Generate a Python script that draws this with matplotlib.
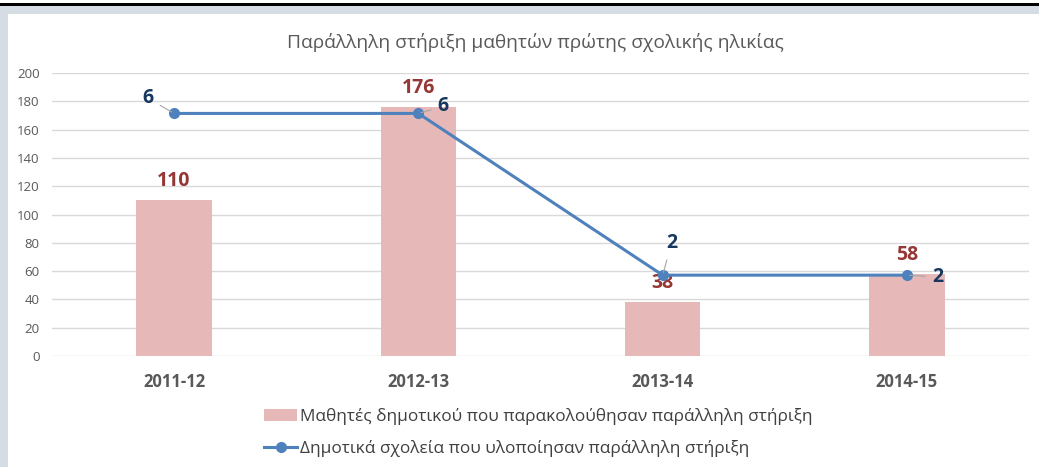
import matplotlib
matplotlib.use("Agg")
import matplotlib.pyplot as plt
from matplotlib.patches import Rectangle
from matplotlib.lines import Line2D

plt.rcParams['font.family'] = ['Open Sans', 'Noto Sans', 'DejaVu Sans']

categories = ["2011-12", "2012-13", "2013-14", "2014-15"]
students = [110, 176, 38, 58]
schools = [6, 6, 2, 2]
yticks = [0, 20, 40, 60, 80, 100, 120, 140, 160, 180, 200]

title = "Παράλληλη στήριξη μαθητών πρώτης σχολικής ηλικίας"
label_students = "Μαθητές δημοτικού που παρακολούθησαν παράλληλη στήριξη"
label_schools = "Δημοτικά σχολεία που υλοποίησαν παράλληλη στήριξη"

W, H = 1039, 467
fig = plt.figure(figsize=(W / 100, H / 100), dpi=100)
fig.patch.set_facecolor("white")

# frame decorations
fig.patches.append(Rectangle((0, 1 - 14 / H), 1, 8 / H, transform=fig.transFigure,
                             facecolor="#d6dce4", edgecolor="none", zorder=0))
fig.patches.append(Rectangle((0, 0), 8 / W, 1 - 6 / H, transform=fig.transFigure,
                             facecolor="#d6dce4", edgecolor="none", zorder=0))
fig.patches.append(Rectangle((0, 1 - 6 / H), 1, 3 / H, transform=fig.transFigure,
                             facecolor="black", edgecolor="none", zorder=1))

ax = fig.add_axes([52 / W, 1 - 356 / H, (1029 - 52) / W, (356 - 73) / H])
x = list(range(len(categories)))
ax.bar(x, students, width=0.31, color="#e6b9b8", zorder=2, label=label_students)
ax.set_xlim(-0.5, len(categories) - 0.5)
ax.set_ylim(0, 200)
ax.set_yticks(yticks)
ax.yaxis.grid(True, color="#d9d9d9", linewidth=1)
ax.set_axisbelow(True)
for s in ax.spines.values():
    s.set_visible(False)
ax.tick_params(axis="both", length=0)
ax.tick_params(axis="y", labelsize=9.5, labelcolor="#595959", pad=9)
ax.set_xticks(x)
ax.set_xticklabels(categories, fontsize=12, fontweight="bold", color="#595959")
ax.tick_params(axis="x", pad=12)

for xi, v in zip(x, students):
    ax.annotate(str(v), (xi, v), xytext=(0, 19), textcoords="offset pixels",
                ha="center", va="center", fontsize=14, fontweight="bold", color="#953735", zorder=5)

ax2 = ax.twinx()
ax2.set_ylim(0, 7)
ax2.axis("off")
ax2.plot(x, schools, color="#4f81bd", lw=2.2, marker="o", markersize=7, zorder=4,
         label=label_schools)

offsets = [(-26, 15), (25, 7), (9, 32), (31, -2)]
for xi, v, off in zip(x, schools, offsets):
    ax2.annotate(str(v), (xi, v), xytext=off, textcoords="offset pixels",
                 ha="center", va="center", fontsize=14, fontweight="bold", color="#17375e",
                 arrowprops=dict(arrowstyle="-", color="#a6a6a6", lw=0.8,
                                 shrinkA=3, shrinkB=2), zorder=6)

fig.text(0.515, 1 - 42 / H, title, ha="center", va="center", fontsize=13.8, color="#595959")

handles = [Rectangle((0, 0), 1, 1, facecolor="#e6b9b8", edgecolor="none"),
           Line2D([], [], color="#4f81bd", lw=2.2, marker="o", markersize=7)]
fig.legend(handles, [label_students, label_schools], loc="upper left",
           bbox_to_anchor=(257 / W, 1 - 401 / H), frameon=False, fontsize=12.4,
           labelcolor="#404040", handlelength=1.95, handletextpad=0.12, labelspacing=0.85,
           borderaxespad=0)

fig.savefig("out.png", dpi=100)
